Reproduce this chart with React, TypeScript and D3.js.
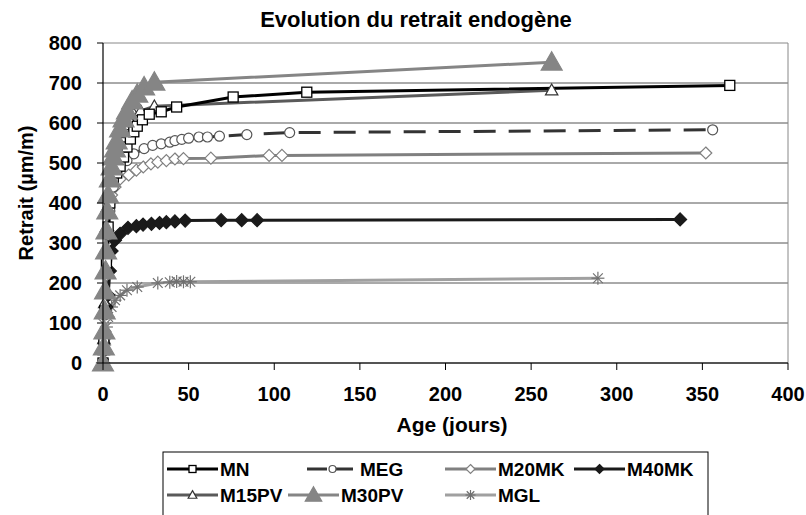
import React from 'react';
import { scaleLinear, line } from 'd3';

const width = 806;
const height = 515;
const margin = { left: 103, top: 43, right: 18, bottom: 152 };
const plotW = width - margin.left - margin.right;
const plotH = height - margin.top - margin.bottom;

const xTicks = [0, 50, 100, 150, 200, 250, 300, 350, 400];
const yTicks = [0, 100, 200, 300, 400, 500, 600, 700, 800];

// ages (jours) and retrait (µm/m) for each mix
const mnX = [0, 0.5, 1, 2, 3, 4, 6, 8, 10, 12, 14, 16, 18, 20, 23, 27, 34, 43, 76, 119, 366];
const mnY = [0, 60, 130, 250, 340, 400, 455, 475, 492, 515, 540, 560, 578, 592, 608, 622, 628, 640, 665, 677, 694];

const megX = [0, 0.5, 1, 2, 3, 4, 6, 9, 14, 18, 24, 29, 34, 39, 42, 46, 50, 56, 61, 68, 84, 109, 356];
const megY = [0, 50, 120, 230, 320, 380, 440, 490, 506, 523, 536, 544, 548, 552, 556, 559, 562, 565, 565, 567, 571, 576, 583];

const m20X = [0, 0.5, 1, 2, 3, 4, 5, 7, 10, 15, 19.5, 23.5, 28, 32, 37, 42, 47, 63, 97, 104.5, 352];
const m20Y = [0, 50, 110, 220, 330, 400, 420, 440, 460, 470, 482, 490, 498, 502, 506, 510, 511, 512, 519, 519, 525];

const m40X = [0, 0.5, 1, 2, 3, 4, 5, 7, 10, 14.6, 19.5, 23.4, 28.3, 33, 37, 42, 48, 69, 81, 90, 337];
const m40Y = [0, 30, 70, 140, 170, 230, 280, 307, 323, 338, 342, 346, 348, 350, 352, 354, 356, 357, 357, 357, 359];

const m15X = [0, 0.5, 1, 1.5, 2, 2.5, 3, 4, 5, 6, 8, 10, 12, 15, 18, 22, 30, 262];
const m15Y = [0, 60, 150, 280, 340, 390, 420, 460, 490, 515, 550, 575, 595, 612, 622, 630, 642, 682];

const m30X = [0, 0.5, 0.8, 1, 1.2, 1.5, 1.8, 2, 2.5, 3, 4, 5, 6, 7, 8, 10, 12, 14, 17, 20, 24, 30, 262];
const m30Y = [0, 40, 80, 130, 180, 230, 280, 330, 380, 420, 460, 490, 515, 535, 555, 585, 610, 630, 655, 672, 690, 702, 752];

const mglX = [0, 0.5, 1, 1.5, 2, 3, 5, 7, 10, 14, 20, 32, 39, 43, 47, 51, 289];
const mglY = [0, 20, 45, 70, 90, 115, 140, 157, 169, 182, 190, 200, 202, 204, 203, 203, 212];

type Marker = 'square' | 'circle' | 'diamond' | 'triangle' | 'star';

const series = [
  { name: 'MN', xs: mnX, ys: mnY, color: '#000000', marker: 'square' as Marker, fill: '#fff', mstroke: '#000', dash: '' },
  { name: 'MEG', xs: megX, ys: megY, color: '#333333', marker: 'circle' as Marker, fill: '#fff', mstroke: '#555', dash: '22 13' },
  { name: 'M20MK', xs: m20X, ys: m20Y, color: '#808080', marker: 'diamond' as Marker, fill: '#fff', mstroke: '#808080', dash: '' },
  { name: 'M40MK', xs: m40X, ys: m40Y, color: '#1a1a1a', marker: 'diamond' as Marker, fill: '#1a1a1a', mstroke: '#1a1a1a', dash: '' },
  { name: 'M15PV', xs: m15X, ys: m15Y, color: '#5a5a5a', marker: 'triangle' as Marker, fill: '#fff', mstroke: '#333', dash: '' },
  { name: 'M30PV', xs: m30X, ys: m30Y, color: '#858585', marker: 'triangle' as Marker, fill: '#858585', mstroke: '#858585', dash: '' },
  { name: 'MGL', xs: mglX, ys: mglY, color: '#a0a0a0', marker: 'star' as Marker, fill: 'none', mstroke: '#707070', dash: '' },
];

// draw order: back to front, like the reference
const drawOrder = ['MGL', 'M40MK', 'M20MK', 'MEG', 'M15PV', 'MN', 'M30PV'];

const legendPos: Record<string, { x: number; y: number }> = {
  MN: { x: 167, y: 469 },
  MEG: { x: 307, y: 469 },
  M20MK: { x: 445, y: 469 },
  M40MK: { x: 574, y: 469 },
  M15PV: { x: 167, y: 495 },
  M30PV: { x: 288, y: 495 },
  MGL: { x: 445, y: 495 },
};

const x = scaleLinear().domain([0, 400]).range([0, plotW]);
const y = scaleLinear().domain([0, 800]).range([plotH, 0]);

const font = '"Liberation Sans", Arial, sans-serif';

function MarkerShape({ kind, cx, cy, s, fill, stroke, big }: { kind: Marker; cx: number; cy: number; s: number; fill: string; stroke: string; big?: boolean }) {
  if (kind === 'square') {
    return <rect x={cx - s / 2} y={cy - s / 2} width={s} height={s} fill={fill} stroke={stroke} strokeWidth={1.3} />;
  }
  if (kind === 'circle') {
    return <circle cx={cx} cy={cy} r={s / 2} fill={fill} stroke={stroke} strokeWidth={1.2} />;
  }
  if (kind === 'diamond') {
    const h = s / 2 + 1;
    return <path d={`M${cx},${cy - h}L${cx + h},${cy}L${cx},${cy + h}L${cx - h},${cy}Z`} fill={fill} stroke={stroke} strokeWidth={1.2} />;
  }
  if (kind === 'triangle') {
    const h = big ? s * 0.75 : s * 0.62;
    return <path d={`M${cx},${cy - h}L${cx + h},${cy + h * 0.75}L${cx - h},${cy + h * 0.75}Z`} fill={fill} stroke={stroke} strokeWidth={1.2} />;
  }
  const r = s / 2;
  return (
    <g stroke={stroke} strokeWidth={1.2}>
      <line x1={cx - r} y1={cy} x2={cx + r} y2={cy} />
      <line x1={cx} y1={cy - r} x2={cx} y2={cy + r} />
      <line x1={cx - r * 0.75} y1={cy - r * 0.75} x2={cx + r * 0.75} y2={cy + r * 0.75} />
      <line x1={cx - r * 0.75} y1={cy + r * 0.75} x2={cx + r * 0.75} y2={cy - r * 0.75} />
    </g>
  );
}

export default function App() {
  const lineGen = line<[number, number]>()
    .x(d => x(d[0]))
    .y(d => y(d[1]));

  const ordered = drawOrder.map(n => series.find(s => s.name === n)!);
  const markerSize = (n: string) => (n === 'M40MK' ? 11 : n === 'M30PV' ? 14 : n === 'MGL' ? 13 : 10);

  return (
    <svg width={width} height={height} style={{ position: 'absolute', left: 0, top: 0, background: '#fff' }}>
      <rect width={width} height={height} fill="#fff" />
      <text x={416} y={27} textAnchor="middle" fontFamily={font} fontWeight="bold" fontSize={22}>
        Evolution du retrait endogène
      </text>
      <g transform={`translate(${margin.left},${margin.top})`}>
        {yTicks.map(t => (
          <line key={t} x1={0} x2={plotW} y1={y(t)} y2={y(t)} stroke={t === 800 ? '#888' : '#555'} strokeWidth={1} />
        ))}
        <line x1={plotW} x2={plotW} y1={0} y2={plotH} stroke="#888" strokeWidth={1} />
        {ordered.map(s => {
          const pts = s.xs.map((v, i) => [v, s.ys[i]] as [number, number]);
          return (
            <path key={s.name} d={lineGen(pts) as string} fill="none" stroke={s.color} strokeWidth={3} strokeDasharray={s.dash || undefined} />
          );
        })}
        {ordered.map(s => (
          <g key={s.name + 'm'}>
            {s.xs.map((v, i) => (
              <MarkerShape
                key={i}
                kind={s.marker}
                cx={x(v)}
                cy={y(s.ys[i])}
                s={markerSize(s.name)}
                big={s.name === 'M30PV'}
                fill={s.fill}
                stroke={s.mstroke}
              />
            ))}
          </g>
        ))}
        <line x1={0} x2={0} y1={0} y2={plotH} stroke="#000" strokeWidth={1.2} />
        <line x1={0} x2={plotW} y1={plotH} y2={plotH} stroke="#000" strokeWidth={1.2} />
        {yTicks.map(t => (
          <g key={'yt' + t}>
            <line x1={-6} x2={0} y1={y(t)} y2={y(t)} stroke="#000" />
            <text x={-21} y={y(t)} dy="0.36em" textAnchor="end" fontFamily={font} fontWeight="bold" fontSize={20}>
              {t}
            </text>
          </g>
        ))}
        {xTicks.map(t => (
          <g key={'xt' + t}>
            <line x1={x(t)} x2={x(t)} y1={plotH} y2={plotH + 7} stroke="#000" />
            <text x={x(t)} y={plotH + 38} textAnchor="middle" fontFamily={font} fontWeight="bold" fontSize={20}>
              {t}
            </text>
          </g>
        ))}
      </g>
      <text x={452} y={432} textAnchor="middle" fontFamily={font} fontWeight="bold" fontSize={21}>
        Age (jours)
      </text>
      <text
        transform={`translate(33,193) rotate(-90)`}
        textAnchor="middle"
        fontFamily={font}
        fontWeight="bold"
        fontSize={20}
      >
        Retrait (µm/m)
      </text>
      <rect x={163} y={452} width={545} height={80} fill="#fff" stroke="#000" strokeWidth={1} />
      {series.map(s => {
        const p = legendPos[s.name];
        return (
          <g key={'lg' + s.name}>
            <line x1={p.x} x2={p.x + 51} y1={p.y} y2={p.y} stroke={s.color} strokeWidth={3} strokeDasharray={s.dash ? '20 6' : undefined} />
            <MarkerShape kind={s.marker} cx={p.x + 25.5} cy={p.y} s={s.name === 'M30PV' ? 11 : s.name === 'MGL' ? 10 : 7} big={s.name === 'M30PV'} fill={s.fill} stroke={s.mstroke} />
            <text x={p.x + 53} y={p.y} dy="0.36em" fontFamily={font} fontWeight="bold" fontSize={19}>
              {s.name}
            </text>
          </g>
        );
      })}
    </svg>
  );
}
